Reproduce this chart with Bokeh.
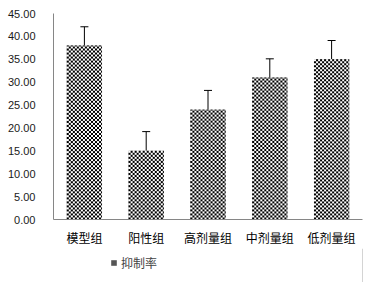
import numpy as np
from bokeh.plotting import figure
from bokeh.layouts import column
from bokeh.models import ColumnDataSource, Legend, LegendItem, Whisker, TeeHead, CustomJSTickFormatter
from bokeh.embed import file_html
from bokeh.resources import INLINE

categories = ["模型组", "阳性组", "高剂量组", "中剂量组", "低剂量组"]
values = [38.0, 15.0, 24.0, 31.0, 35.0]
errors = [4.1, 4.2, 4.2, 4.1, 4.1]
y_ticks = [0, 5, 10, 15, 20, 25, 30, 35, 40, 45]
series_name = "抑制率"

BAR_W = 0.57
PX_PER_UNIT = 206 / 45.0   # vertical pixel scale of the frame (style)
PX_PER_CAT = 309 / 5.0     # horizontal pixel scale (style)

upper = [v + e for v, e in zip(values, errors)]
src = ColumnDataSource(dict(cat=categories, val=values, upper=upper))

BASE = dict(fill_color="#808080", line_color=None)

p = figure(x_range=categories, y_range=(0, 45), width=376, height=248,
           output_backend="svg", toolbar_location=None,
           min_border_left=53, min_border_right=14, min_border_top=13, min_border_bottom=29)
p.outline_line_color = None
p.grid.grid_line_color = None

p.vbar(x="cat", top="val", width=BAR_W, source=src, **BASE)


def checker(h, w, cell=2):
    rr, cc = np.mgrid[0:h, 0:w]
    on = ((rr // cell + cc // cell) % 2) == 0
    img = np.where(on, np.uint32(0xFF000000), np.uint32(0xFFFFFFFF)).astype(np.uint32)
    return img


imgs = [checker(max(1, int(round(v * PX_PER_UNIT))), int(round(BAR_W * PX_PER_CAT))) for v in values]
img_src = ColumnDataSource(dict(
    image=imgs,
    x=[(c, -BAR_W / 2) for c in categories],
    y=[0] * len(values),
    dw=[BAR_W] * len(values),
    dh=values,
))
p.image_rgba(image="image", x="x", y="y", dw="dw", dh="dh", source=img_src)

w = Whisker(base="cat", lower="val", upper="upper", source=src,
            line_color="black", line_width=1, lower_head=None,
            upper_head=TeeHead(size=8, line_color="black", line_width=1))
p.add_layout(w)

p.yaxis.ticker = y_ticks
p.yaxis.formatter = CustomJSTickFormatter(code="return tick.toFixed(2);")
for ax in (p.xaxis[0], p.yaxis[0]):
    ax.axis_line_color = "#868686"
    ax.major_tick_line_color = None
    ax.minor_tick_line_color = None
    ax.major_label_text_font = "Liberation Sans"
    ax.major_label_text_font_size = "11px"
    ax.major_label_text_color = "#1a1a1a"
p.yaxis.major_label_standoff = 12
p.xaxis.major_label_standoff = 3
p.xaxis.major_label_text_font = "Noto Sans CJK SC"
p.xaxis.major_label_text_font_size = "12px"
p.xaxis.major_label_text_color = "black"

# legend strip
p2 = figure(width=376, height=34, x_range=(0, 1), y_range=(0, 1),
            output_backend="svg", toolbar_location=None,
            x_axis_location=None, y_axis_location=None,
            min_border=0)
p2.outline_line_color = None
p2.grid.grid_line_color = None
offscreen = ColumnDataSource(dict(x=[5], top=[1]))
lr1 = p2.vbar(x="x", top="top", width=0.5, source=offscreen, fill_color="#555555", line_color=None)
legend = Legend(items=[LegendItem(label=series_name, renderers=[lr1])],
                orientation="horizontal", location=(57, 11),
                label_text_font="Noto Sans CJK SC", label_text_font_size="12px",
                glyph_width=7, glyph_height=7, label_standoff=4,
                border_line_color=None, background_fill_alpha=0,
                padding=0, margin=0, spacing=0)
p2.add_layout(legend)

open("out.html", "w").write(file_html(column(p, p2, spacing=0), INLINE))
